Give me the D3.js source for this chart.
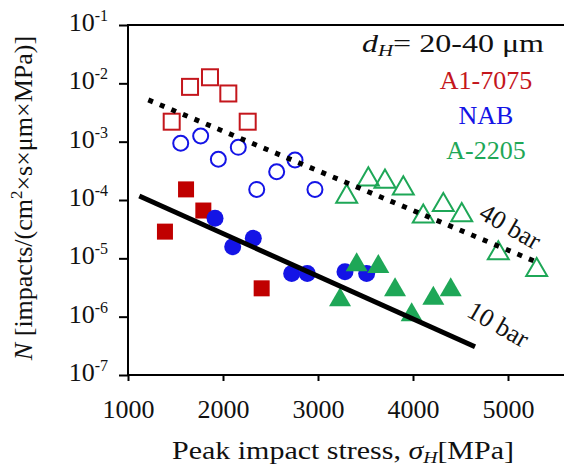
<!DOCTYPE html>
<html><head><meta charset="utf-8">
<script src="https://cdn.jsdelivr.net/npm/d3@7"></script>
<style>body{margin:0;background:#fff}svg{display:block}svg text{font-family:"Liberation Serif","DejaVu Serif",serif !important}</style>
</head><body><svg id="c" width="564" height="468" font-family="Liberation Serif, DejaVu Serif, serif"></svg>
<script>
// Data
const xTicks = [1000, 2000, 3000, 4000, 5000];
const yTickExps = [-1, -2, -3, -4, -5, -6, -7];
const al40 = [[1460, 2.2e-3], [1653, 8.7e-3], [1863, 1.27e-2], [2056, 6.7e-3], [2260, 2.2e-3]];
const nab40 = [[1555, 9.4e-4], [1765, 1.25e-3], [1951, 5.0e-4], [2161, 8.0e-4], [2355, 1.52e-4], [2565, 3.05e-4], [2758, 4.85e-4], [2968, 1.52e-4]];
const a2205_40 = [[3302, 1.14e-4], [3530, 2.26e-4], [3705, 2.06e-4], [3898, 1.58e-4], [4108, 5.2e-5], [4319, 8.2e-5], [4513, 5.5e-5], [4898, 1.22e-5], [5302, 6.3e-6]];
const al10 = [[1389, 2.87e-5], [1611, 1.52e-4], [1793, 6.6e-5], [2407, 3.06e-6]];
const nab10 = [[1916, 4.85e-5], [2102, 1.58e-5], [2319, 2.2e-5], [2723, 5.5e-6], [2887, 5.5e-6], [3284, 5.9e-6], [3512, 5.5e-6]];
const a2205_10 = [[3232, 1.93e-6], [3407, 7.7e-6], [3635, 7.2e-6], [3811, 2.87e-6], [3986, 1.07e-6], [4214, 2.06e-6], [4397, 2.87e-6]];
const fit40 = [[1214, 5.2e-3], [5274, 9.0e-6]];
const fit10 = [[1119, 1.17e-4], [4653, 3.06e-7]];
const legendItems = ["A1-7075", "NAB", "A-2205"];

const RED = "#c4161c", BLUE = "#1414e6", GREEN = "#1ea757";
const FS = 26, FF = "Liberation Serif, DejaVu Serif, serif";
const svg = d3.select("#c");
const x = d3.scaleLinear().domain([1000, 5000]).range([128, 508]);
const y = d3.scaleLog().domain([1e-7, 1e-1]).range([375, 25]);
const W = 564;

// frame lines
svg.append("line").attr("x1", x(1000)).attr("x2", W).attr("y1", y(1e-1)).attr("y2", y(1e-1)).attr("stroke", "#000").attr("stroke-width", 2);
svg.append("line").attr("x1", x(1000)).attr("x2", W).attr("y1", y(1e-7)).attr("y2", y(1e-7)).attr("stroke", "#000").attr("stroke-width", 2);
svg.append("line").attr("x1", x(1000)).attr("x2", x(1000)).attr("y1", y(1e-1)-1).attr("y2", y(1e-7)+1).attr("stroke", "#000").attr("stroke-width", 2);

// x axis
const xa = svg.append("g").attr("transform", `translate(0,${y(1e-7)})`)
  .call(d3.axisBottom(x).tickValues(xTicks).tickSize(6).tickFormat(d3.format("d")));
xa.attr("font-family", FF);
xa.select(".domain").remove();
xa.selectAll("line").attr("stroke-width", 2);
xa.selectAll("text").attr("font-size", FS).attr("font-family", FF).attr("y", 43).attr("dy", 0).attr("fill", "#111");

// y axis
const ya = svg.append("g").attr("transform", `translate(${x(1000)},0)`)
  .call(d3.axisLeft(y).tickValues(yTickExps.map(e => Math.pow(10, e))).tickSize(9).tickFormat(""));
ya.select(".domain").remove();
ya.selectAll("line").attr("stroke-width", 2);
yTickExps.forEach(e => {
  const t = svg.append("text").attr("x", 108).attr("y", y(Math.pow(10, e)) + 6)
    .attr("text-anchor", "end").attr("font-size", FS).attr("font-family", FF).attr("fill", "#111");
  t.append("tspan").text("10");
  t.append("tspan").attr("font-size", 16).attr("dy", -10).text("-" + Math.abs(e));
});

// axis titles
const xt = svg.append("text").attr("x", 172).attr("y", 459)
  .attr("textLength", 342).attr("lengthAdjust", "spacingAndGlyphs")
  .attr("font-size", FS).attr("font-family", FF).attr("fill", "#111");
xt.append("tspan").text("Peak impact  stress, ");
xt.append("tspan").attr("font-style", "italic").text("σ");
xt.append("tspan").attr("font-style", "italic").attr("font-size", 17).attr("dy", 4).text("H");
xt.append("tspan").attr("dy", -4).text("[MPa]");

const yt = svg.append("text").attr("transform", "translate(32,198) rotate(-90)").attr("text-anchor", "middle")
  .attr("font-size", FS).attr("font-family", FF).attr("fill", "#111");
yt.append("tspan").attr("font-style", "italic").text("N");
yt.append("tspan").text(" [impacts/(cm");
yt.append("tspan").attr("font-size", 17).attr("dy", -10).text("2");
yt.append("tspan").attr("dy", 10).text("×s×μm×MPa)]");

// markers
const sq = 16, opSq = 16;
svg.append("g").selectAll("rect").data(al40).join("rect")
  .attr("x", d => x(d[0]) - opSq/2).attr("y", d => y(d[1]) - opSq/2).attr("width", opSq).attr("height", opSq)
  .attr("fill", "none").attr("stroke", RED).attr("stroke-width", 2);
svg.append("g").selectAll("circle").data(nab40).join("circle")
  .attr("cx", d => x(d[0])).attr("cy", d => y(d[1])).attr("r", 7.5)
  .attr("fill", "none").attr("stroke", BLUE).attr("stroke-width", 2);
const tri = d3.symbol().type(d3.symbolTriangle).size(190);
svg.append("g").selectAll("path").data(a2205_40).join("path")
  .attr("d", tri).attr("transform", d => `translate(${x(d[0])},${y(d[1])})`)
  .attr("fill", "none").attr("stroke", GREEN).attr("stroke-width", 2);
svg.append("g").selectAll("rect").data(al10).join("rect")
  .attr("x", d => x(d[0]) - sq/2).attr("y", d => y(d[1]) - sq/2).attr("width", sq).attr("height", sq)
  .attr("fill", "#c00000");
svg.append("g").selectAll("circle").data(nab10).join("circle")
  .attr("cx", d => x(d[0])).attr("cy", d => y(d[1])).attr("r", 8.5).attr("fill", BLUE);
const triF = d3.symbol().type(d3.symbolTriangle).size(210);
svg.append("g").selectAll("path").data(a2205_10).join("path")
  .attr("d", triF).attr("transform", d => `translate(${x(d[0])},${y(d[1])})`)
  .attr("fill", GREEN);

// fit lines
const line = d3.line().x(d => x(d[0])).y(d => y(d[1]));
svg.append("path").datum(fit40).attr("d", line).attr("fill", "none").attr("stroke", "#000")
  .attr("stroke-width", 5).attr("stroke-dasharray", "5,7.5");
svg.append("path").datum(fit10).attr("d", line).attr("fill", "none").attr("stroke", "#000")
  .attr("stroke-width", 5);

// line labels
svg.append("text").attr("transform", "translate(506,234) rotate(30)").attr("text-anchor", "middle")
  .attr("font-size", FS).attr("font-family", FF).attr("fill", "#111").text("40 bar");
svg.append("text").attr("transform", "translate(494,332) rotate(30)").attr("text-anchor", "middle")
  .attr("font-size", FS).attr("font-family", FF).attr("fill", "#111").text("10 bar");

// legend
const lg = svg.append("text").attr("x", 362).attr("y", 52)
  .attr("textLength", 182).attr("lengthAdjust", "spacingAndGlyphs")
  .attr("font-size", FS).attr("font-family", FF).attr("fill", "#111");
lg.append("tspan").attr("font-style", "italic").text("d");
lg.append("tspan").attr("font-style", "italic").attr("font-size", 17).attr("dy", 4).text("H");
lg.append("tspan").attr("dy", -4).text("= 20-40  μm");
const legColors = [RED, BLUE, GREEN];
legendItems.forEach((t, i) => {
  svg.append("text").attr("x", 486).attr("y", 89 + i * 35).attr("text-anchor", "middle")
    .attr("font-size", FS).attr("font-family", FF).attr("fill", legColors[i]).text(t);
});
</script></body></html>
